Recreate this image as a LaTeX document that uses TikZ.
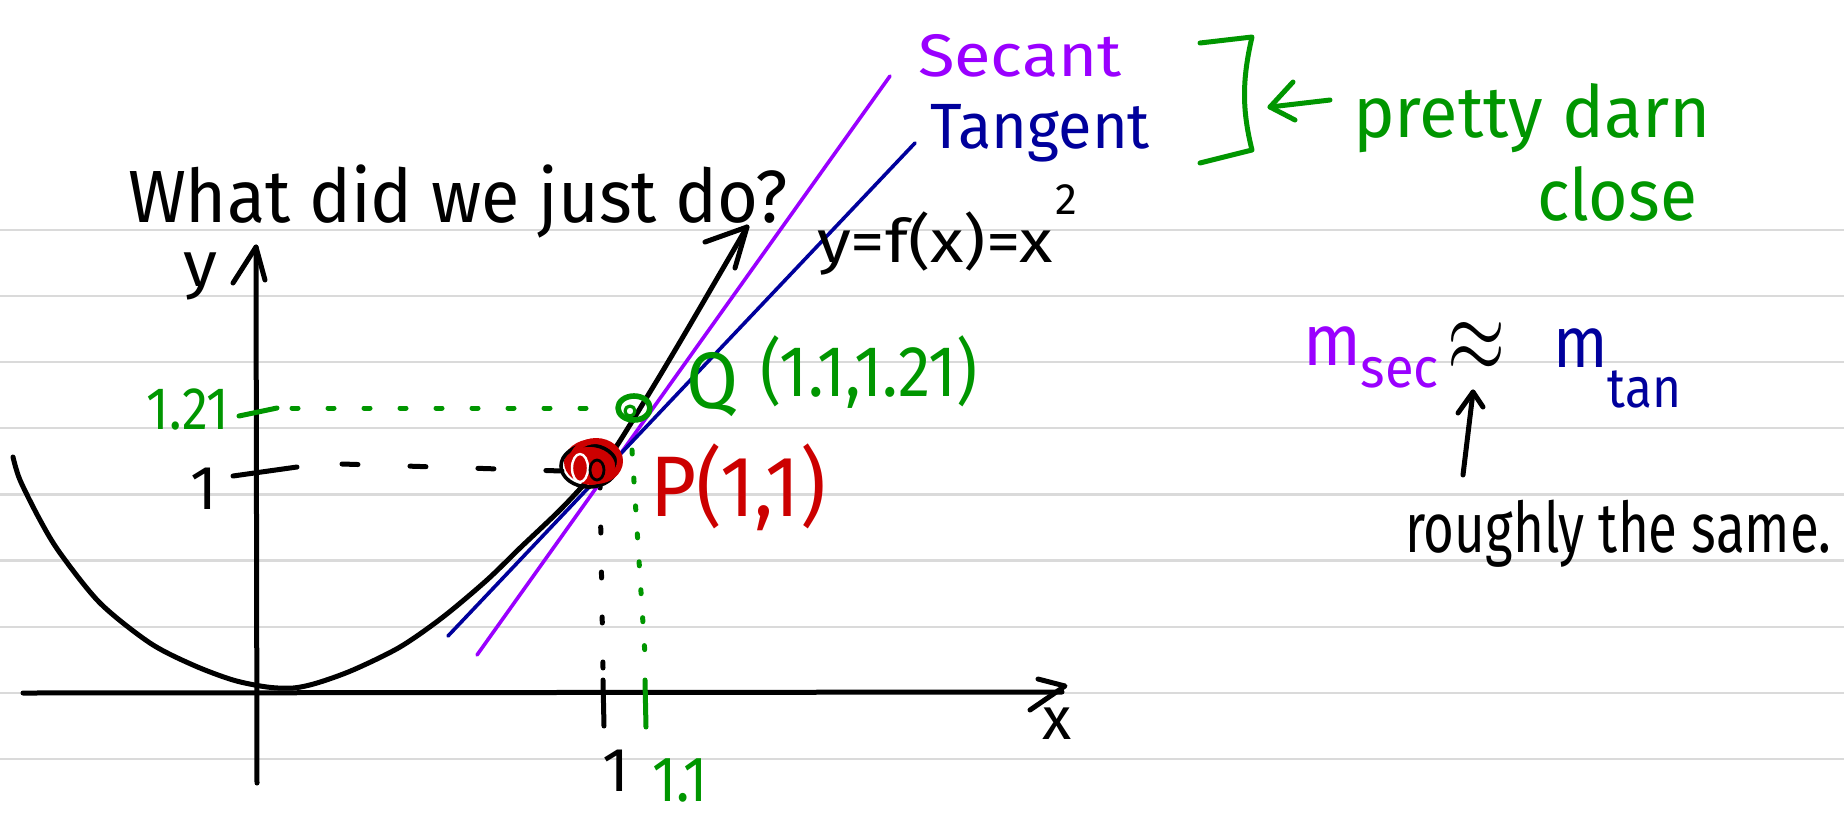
\documentclass[tikz,border=0pt]{standalone}
\usepackage{fontspec}
\setmainfont{Fira Sans}
\usepackage{graphicx}
\definecolor{rulegray}{HTML}{DADADA}
\definecolor{secpurple}{HTML}{9A00FF}
\definecolor{tanblue}{HTML}{00009C}
\definecolor{hwgreen}{HTML}{009600}
\definecolor{hwred}{HTML}{CC0000}
\newcommand{\fs}[1]{\fontsize{#1}{#1}\selectfont}
\newcommand{\hw}[3]{\fs{#1}\resizebox{#2}{\height}{#3}}
\begin{document}
\begin{tikzpicture}[x=0.5pt,y=-0.5pt,line cap=round,line join=round,
  txt/.style={inner sep=0pt,outer sep=0pt},
  ink/.style={line width=2.5pt},
  thinline/.style={line width=1.8pt},
  ruleline/.style={draw=rulegray,line width=1.1pt}]
\fill[white] (0,0) rectangle (1844,816);
\useasboundingbox (0,0) rectangle (1844,816);
% ruled paper
\foreach \k in {0,...,8} \draw[ruleline] (0,{230+66.1*\k}) -- (1844,{230+66.1*\k});

% axes
\coordinate (xl) at (23,693);
\coordinate (xr) at (1062,692);
\coordinate (xtip) at (1065,686);
\coordinate (xb1) at (1038,679);
\coordinate (xb2) at (1030,710);
\coordinate (yb) at (257,783);
\coordinate (yt) at (256,247);
\coordinate (yb1) at (233,283);
\coordinate (yb2) at (265,280);
\draw[ink] (xl) -- (xr);
\draw[ink] (xb1) -- (xtip) -- (xb2);
\draw[ink] (yb) -- (yt);
\draw[ink] (yb1) -- (yt) -- (yb2);

% ticks
\draw[ink] (233,476) -- (297,467);
\draw[ink,hwgreen] (239,416) -- (277,408);
\draw[ink] (603,680) -- (604,726);
\draw[ink,hwgreen] (645,680) -- (646,727);

% dashed guides
\draw[ink,dash pattern=on 8pt off 26pt] (342,464) -- (562,471);
\draw[ink,hwgreen,dash pattern=on 3pt off 15pt] (292,408) -- (615,408);
\draw[ink,dash pattern=on 3pt off 19.5pt] (600,482) -- (603,668);
\draw[ink,hwgreen,dash pattern=on 2pt off 12pt] (632,450) -- (645,655);

% parabola
\coordinate (ctip) at (747,227);
\draw[ink] plot[smooth,tension=0.5] coordinates {(13,457) (20,480) (40,520) (60,553) (100,603) (150,643) (193,665) (233,680) (267,687) (293,688) (317,683) (353,670) (400,647) (443,617) (487,580) (520,548) (560,510) (590,478) (612,453) (650,392) (687,330) (747,227)};
\draw[ink] (705,242) -- (ctip) -- (735,268);

% secant and tangent
\coordinate (s1) at (477,655);
\coordinate (s2) at (890,76);
\coordinate (t1) at (448,636);
\coordinate (t2) at (915,143);
\draw[thinline,secpurple] (s1) -- (s2);
\draw[thinline,tanblue] (t1) -- (t2);

% point P
\fill[hwred] (593,462) ellipse [x radius=29,y radius=23];
\draw[line width=1.8pt] (589,466) ellipse [x radius=28,y radius=21];
\draw[hwred,line width=3pt] (596,461) ellipse [x radius=24,y radius=20];
\draw[white,line width=1.2pt] (580,468) ellipse [x radius=8,y radius=14];
\draw[line width=1.4pt] (597,470) ellipse [x radius=7,y radius=10];
% point Q
\draw[hwgreen,line width=2.8pt] (634,408) ellipse [x radius=16,y radius=12];
\draw[hwgreen,line width=1.6pt] (630,411) circle [radius=5];

% labels
\node[txt,anchor=base west] (title) at (128,222) {\hw{37}{330pt}{What did we just do?}};
\node[txt,anchor=base west] (ylab) at (183,286) {\hw{32}{17pt}{y}};
\node[txt] (oney) at (204,489) {\fs{31}1};
\node[txt,text=hwgreen] (ytick) at (188,409) {\hw{30}{41pt}{1.21}};
\node[txt] (xlab) at (1057,724) {\fs{30}x};
\node[txt] (onex) at (616,771) {\fs{31}1};
\node[txt,text=hwgreen] (onepone) at (680,780) {\hw{32}{28pt}{1.1}};
\node[txt,text=hwgreen] (Qlab) at (712,385) {\hw{40}{26pt}{Q}};
\node[txt,text=hwgreen] (Qcoord) at (869,372) {\hw{36}{109pt}{(1.1,1.21)}};
\node[txt,text=hwred] (Plab) at (738,487) {\hw{43}{88pt}{P(1,1)}};
\node[txt,text=secpurple,anchor=base west] (seclab) at (918,76) {\hw{30}{102pt}{Secant}};
\node[txt,text=tanblue,anchor=base west] (tanlab) at (930,148) {\hw{32}{110pt}{Tangent}};
\node[txt,anchor=base west] (fx) at (817,262) {\hw{30}{118pt}{y=f(x)=x}\hspace{1pt}\raisebox{24pt}{\fs{22}2}};

% right side notes
\coordinate (br1) at (1200,43);
\coordinate (br2) at (1252,37);
\coordinate (br3) at (1252,150);
\coordinate (br4) at (1200,163);
\draw[ink,hwgreen] (br1) -- (br2) .. controls (1242,80) and (1242,110) .. (br3) -- (br4);
\coordinate (ga1) at (1330,100);
\coordinate (ga2) at (1270,107);
\draw[ink,hwgreen] (ga1) -- (ga2);
\draw[ink,hwgreen] (1293,82) -- (ga2) -- (1295,120);
\node[txt,text=hwgreen,anchor=base west] (pd) at (1353,137) {\hw{36}{179pt}{pretty darn}};
\node[txt,text=hwgreen,anchor=base west] (close) at (1537,220) {\hw{36}{80pt}{close}};

\node[txt,text=secpurple,anchor=base west] (msec) at (1303,365) {\fs{36}\resizebox{68pt}{\height}{m\raisebox{-11pt}{\fs{28}sec}}};
\node[txt] (approx) at (1476,347) {\resizebox{29pt}{25pt}{$\approx$}};
\node[txt,text=tanblue,anchor=base west] (mtan) at (1553,367) {\fs{36}\resizebox{64pt}{\height}{m\raisebox{-20pt}{\fs{28}tan}}};
\coordinate (ab) at (1463,475);
\coordinate (at) at (1473,392);
\draw[ink] (ab) -- (at);
\draw[ink] (1458,413) -- (at) -- (1483,407);
\node[txt,anchor=base west] (rough) at (1405,552) {\hw{35}{213pt}{roughly the same.}};
\end{tikzpicture}
\end{document}
